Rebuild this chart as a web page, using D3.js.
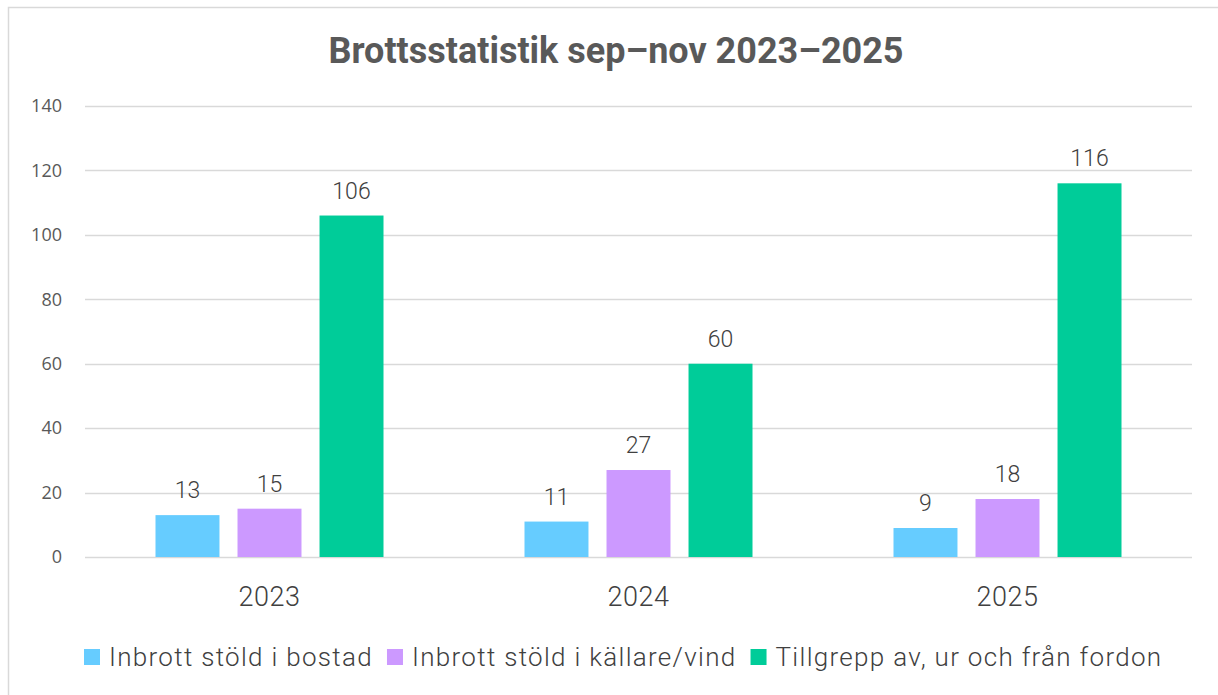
<!DOCTYPE html>
<html>
<head>
<meta charset="utf-8">
<style>
  body { margin: 0; background: #fff; }
</style>
</head>
<body>
<div id="container"></div>
<script src="https://cdn.jsdelivr.net/npm/d3@7"></script>
<script>
const years = ["2023", "2024", "2025"];
const seriesNames = ["Inbrott stöld i bostad", "Inbrott stöld i källare/vind", "Tillgrepp av, ur och från fordon"];
const seriesColors = ["#66CCFF", "#CC99FF", "#00CC99"];
const bostad = [13, 11, 9];
const kallare = [15, 27, 18];
const fordon = [106, 60, 116];
const yTicks = [0, 20, 40, 60, 80, 100, 120, 140];

const values = [bostad, kallare, fordon];

const width = 1218, height = 695;
const margin = { left: 85, right: 26, top: 106, bottom: 138 };

const svg = d3.select("#container").append("svg")
    .attr("width", width)
    .attr("height", height);

// chart frame
svg.append("rect")
    .attr("x", 8.5).attr("y", 7.5)
    .attr("width", width + 20).attr("height", height + 20)
    .attr("fill", "#fff")
    .attr("stroke", "#D9D9D9")
    .attr("stroke-width", 1.5);

svg.append("text")
    .attr("x", 616).attr("y", 63)
    .attr("text-anchor", "middle")
    .attr("font-family", "Roboto")
    .attr("font-weight", 700)
    .attr("font-size", 36)
    .attr("fill", "#595959")
    .text("Brottsstatistik sep–nov 2023–2025");

const x = d3.scaleBand()
    .domain(years)
    .range([margin.left, width - margin.right]);

const xs = d3.scaleBand()
    .domain(d3.range(seriesNames.length))
    .range([0, 228])
    .paddingInner(0.22);

const y = d3.scaleLinear()
    .domain([0, 140])
    .range([height - margin.bottom, margin.top]);

// gridlines
svg.append("g")
    .selectAll("line")
    .data(yTicks)
    .join("line")
    .attr("x1", margin.left).attr("x2", width - margin.right)
    .attr("y1", d => Math.round(y(d)) + 0.5).attr("y2", d => Math.round(y(d)) + 0.5)
    .attr("stroke", "#D9D9D9")
    .attr("stroke-width", 1.5);

// y tick labels
svg.append("g")
    .selectAll("text")
    .data(yTicks)
    .join("text")
    .attr("x", 62)
    .attr("y", d => y(d))
    .attr("dy", "0.35em")
    .attr("text-anchor", "end")
    .attr("font-family", "Open Sans")
    .attr("font-size", 18)
    .attr("fill", "#595959")
    .text(d => d);

// bars
const groups = svg.append("g")
    .selectAll("g")
    .data(years)
    .join("g")
    .attr("transform", d => `translate(${x(d) + x.bandwidth() / 2 - 114},0)`);

groups.each(function(yr, yi) {
  const g = d3.select(this);
  values.forEach((vals, si) => {
    const v = vals[yi];
    g.append("rect")
        .attr("x", xs(si))
        .attr("y", y(v))
        .attr("width", xs.bandwidth())
        .attr("height", y(0) - y(v))
        .attr("fill", seriesColors[si]);
    g.append("text")
        .attr("x", xs(si) + xs.bandwidth() / 2)
        .attr("y", y(v) - 17)
        .attr("text-anchor", "middle")
        .attr("font-family", "Roboto")
        .attr("font-weight", 300)
        .attr("font-size", 23)
        .attr("fill", "#404040")
        .text(v);
  });
});

// x labels
svg.append("g")
    .selectAll("text")
    .data(years)
    .join("text")
    .attr("x", d => x(d) + x.bandwidth() / 2)
    .attr("y", 606)
    .attr("text-anchor", "middle")
    .attr("font-family", "Roboto")
    .attr("font-weight", 300)
    .attr("font-size", 27)
    .attr("letter-spacing", 0.5)
    .attr("fill", "#404040")
    .text(d => d);

// legend
const legend = svg.append("g");
let lx = 84;
seriesNames.forEach((name, i) => {
  legend.append("rect")
      .attr("x", lx).attr("y", 649)
      .attr("width", 16).attr("height", 16)
      .attr("fill", seriesColors[i]);
  const t = legend.append("text")
      .attr("x", lx + 25).attr("y", 666)
      .attr("font-family", "Roboto")
      .attr("font-weight", 300)
      .attr("font-size", 26)
      .attr("letter-spacing", 1.3)
      .attr("fill", "#404040")
      .text(name);
  lx += 25 + t.node().getComputedTextLength() + 14;
});
</script>
</body>
</html>
